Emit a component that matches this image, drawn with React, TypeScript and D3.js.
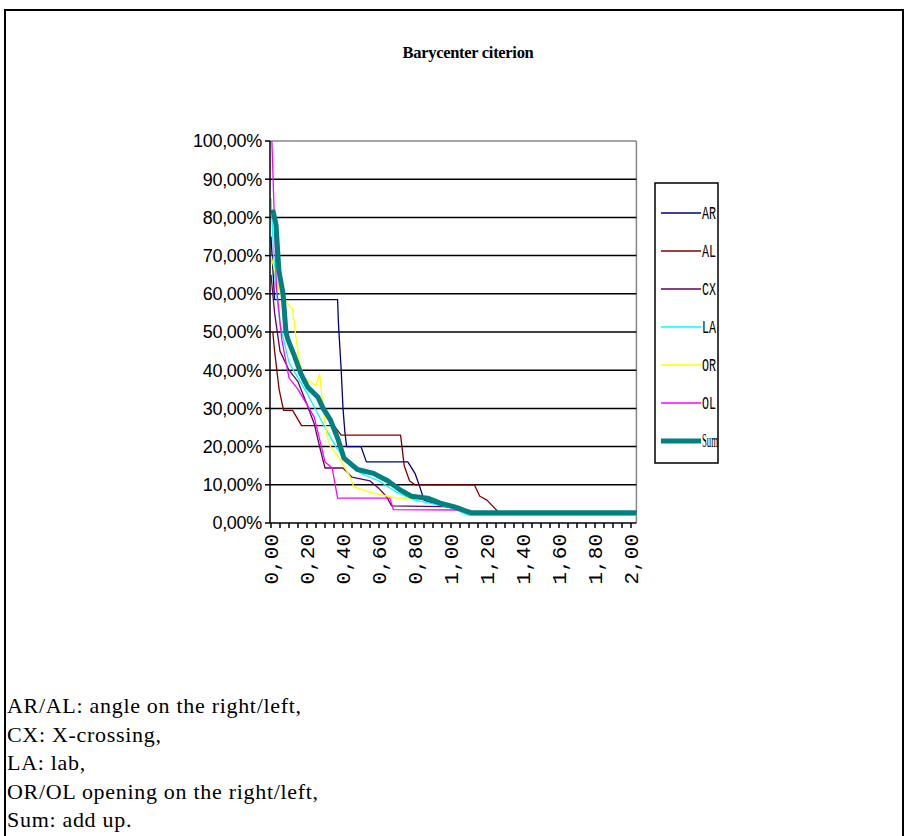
import React from 'react';
import * as d3 from 'd3';

const TITLE = 'Barycenter citerion';
const Y_TICKS = [0, 0.1, 0.2, 0.3, 0.4, 0.5, 0.6, 0.7, 0.8, 0.9, 1.0];
const X_LABELS = [0, 0.2, 0.4, 0.6, 0.8, 1.0, 1.2, 1.4, 1.6, 1.8, 2.0];
const X_MAX = 2.03;

// [threshold, share] pairs
const AR: [number, number][] = [
  [0, 0.75], [0.02, 0.585], [0.37, 0.585], [0.375, 0.52], [0.39, 0.4], [0.4, 0.3], [0.41, 0.24],
  [0.42, 0.2], [0.5, 0.2], [0.53, 0.16], [0.76, 0.16], [0.8, 0.13], [0.83, 0.09], [0.85, 0.06],
  [0.95, 0.045], [1.05, 0.035], [1.12, 0.025], [2.03, 0.025],
];
const AL: [number, number][] = [
  [0.01, 0.5], [0.02, 0.45], [0.045, 0.35], [0.07, 0.295], [0.12, 0.295], [0.17, 0.255],
  [0.35, 0.255], [0.39, 0.23], [0.72, 0.23], [0.74, 0.15], [0.77, 0.11], [0.8, 0.1],
  [1.13, 0.1], [1.16, 0.07], [1.2, 0.06], [1.26, 0.03], [2.03, 0.03],
];
const CX: [number, number][] = [
  [0, 0.65], [0.02, 0.55], [0.05, 0.45], [0.1, 0.4], [0.15, 0.37], [0.2, 0.31], [0.24, 0.26],
  [0.27, 0.2], [0.3, 0.144], [0.4, 0.144], [0.45, 0.12], [0.55, 0.11], [0.6, 0.09], [0.64, 0.07],
  [0.67, 0.045], [1.05, 0.042], [1.1, 0.03], [1.2, 0.025], [2.03, 0.025],
];
const LA: [number, number][] = [
  [0, 0.85], [0.02, 0.65], [0.05, 0.52], [0.1, 0.42], [0.2, 0.34], [0.3, 0.25], [0.36, 0.2],
  [0.42, 0.16], [0.5, 0.13], [0.6, 0.11], [0.7, 0.08], [0.8, 0.06], [0.9, 0.05], [1.0, 0.04],
  [1.1, 0.02], [2.03, 0.02],
];
const OR: [number, number][] = [
  [0, 0.7], [0.05, 0.6], [0.12, 0.56], [0.14, 0.48], [0.16, 0.42], [0.18, 0.38], [0.25, 0.36],
  [0.27, 0.39], [0.29, 0.3], [0.31, 0.23], [0.33, 0.2], [0.38, 0.17], [0.44, 0.12], [0.46, 0.095],
  [0.55, 0.08], [0.65, 0.07], [0.7, 0.065], [0.9, 0.065], [0.95, 0.05], [1.05, 0.035],
  [1.15, 0.025], [2.03, 0.025],
];
const OL: [number, number][] = [
  [0.005, 1.0], [0.015, 0.85], [0.03, 0.62], [0.06, 0.48], [0.1, 0.38], [0.15, 0.35], [0.2, 0.31],
  [0.24, 0.277], [0.28, 0.2], [0.3, 0.16], [0.34, 0.144], [0.37, 0.065], [0.66, 0.065],
  [0.68, 0.035], [1.05, 0.034], [1.1, 0.028], [2.03, 0.028],
];
const SUM: [number, number][] = [
  [0.01, 0.82], [0.028, 0.78], [0.044, 0.66], [0.067, 0.6], [0.083, 0.5], [0.094, 0.48],
  [0.128, 0.44], [0.167, 0.39], [0.205, 0.355], [0.26, 0.33], [0.29, 0.3], [0.33, 0.27],
  [0.372, 0.22], [0.405, 0.17], [0.43, 0.16], [0.48, 0.14], [0.57, 0.13], [0.65, 0.11],
  [0.72, 0.086], [0.78, 0.07], [0.87, 0.065], [0.94, 0.052], [1.02, 0.042], [1.08, 0.032],
  [1.11, 0.027], [2.03, 0.027],
];

const SERIES_NAMES = ['AR', 'AL', 'CX', 'LA', 'OR', 'OL', 'Sum'];
const SERIES_DATA = [AR, AL, CX, LA, OR, OL, SUM];
const SERIES_COLORS = ['#000080', '#800000', '#600060', '#00FFFF', '#FFFF00', '#FF00FF', '#008080'];
const SERIES_WIDTHS = [1.3, 1.3, 1.3, 1.3, 1.3, 1.3, 5];

const CAPTION = [
  'AR/AL: angle on the right/left,',
  'CX: X-crossing,',
  'LA: lab,',
  'OR/OL opening on the right/left,',
  'Sum: add up.',
];

export default function App() {
  const x = d3.scaleLinear().domain([0, 2]).range([271, 631]);
  const y = d3.scaleLinear().domain([0, 1]).range([523, 141]);
  const line = d3.line<[number, number]>().x((d) => x(d[0])).y((d) => y(d[1]));
  const fmtY = (v: number) => (v * 100).toFixed(2).replace('.', ',') + '%';
  const fmtX = (v: number) => v.toFixed(2).replace('.', ',');
  const minorTicks = d3.range(0, 2.0001, 0.05);
  const x0 = x(0) - 1;
  const x1 = x(X_MAX);

  return (
    <svg width={908} height={836} style={{ position: 'absolute', left: 0, top: 0, background: '#fff' }}>
      {/* outer frame */}
      <rect x={5} y={10} width={898} height={840} fill="none" stroke="#000" strokeWidth={2} />
      <text x={468} y={58} textAnchor="middle" fontFamily="Liberation Serif" fontWeight="bold" fontSize={16.5}
        letterSpacing={-0.3}>
        {TITLE}
      </text>
      {/* plot frame */}
      <line x1={x0} x2={x1} y1={y(1)} y2={y(1)} stroke="#888" strokeWidth={1.5} />
      <line x1={x1} x2={x1} y1={y(1)} y2={y(0)} stroke="#888" strokeWidth={1.5} />
      {Y_TICKS.filter((t) => t > 0 && t < 1).map((t) => (
        <line key={t} x1={x0} x2={x1} y1={y(t)} y2={y(t)} stroke="#000" strokeWidth={1.5} />
      ))}
      {/* series */}
      {SERIES_DATA.map((d, i) => (
        <path key={SERIES_NAMES[i]} d={line(d) || ''} fill="none" stroke={SERIES_COLORS[i]}
          strokeWidth={SERIES_WIDTHS[i]} strokeLinejoin="round" />
      ))}
      {/* axes */}
      <line x1={x0} x2={x0} y1={y(1)} y2={y(0)} stroke="#000" strokeWidth={1.5} />
      <line x1={x0} x2={x1} y1={y(0)} y2={y(0)} stroke="#000" strokeWidth={1.5} />
      {Y_TICKS.map((t) => (
        <g key={t}>
          <line x1={x0 - 5} x2={x0} y1={y(t)} y2={y(t)} stroke="#000" strokeWidth={1.5} />
          <text x={262} y={y(t)} dy="0.36em" textAnchor="end" fontFamily="Liberation Sans" fontSize={18}
            letterSpacing={-0.3}>
            {fmtY(t)}
          </text>
        </g>
      ))}
      {minorTicks.map((t) => (
        <line key={t} x1={x(t)} x2={x(t)} y1={y(0)} y2={y(0) + 5} stroke="#000" strokeWidth={1.5} />
      ))}
      {X_LABELS.map((t) => (
        <text key={t} transform={`translate(${x(t)},${y(0) + 11}) rotate(-90)`} dy="0.33em"
          textAnchor="end" fontFamily="Liberation Mono" fontSize={21}>
          {fmtX(t)}
        </text>
      ))}
      {/* legend */}
      <rect x={655} y={183} width={63} height={280} fill="#fff" stroke="#000" strokeWidth={1.5} />
      {SERIES_NAMES.map((n, i) => {
        const ly = 213 + i * 38;
        return (
          <g key={n}>
            <line x1={661} x2={701} y1={ly} y2={ly} stroke={SERIES_COLORS[i]} strokeWidth={i === 6 ? 5 : 1.5} />
            <text x={702} y={ly} dy="0.36em" fontFamily={i === 6 ? 'Liberation Serif' : 'Liberation Mono'}
              fontSize={18} textLength={n.length === 3 ? 16 : 14} lengthAdjust="spacingAndGlyphs">
              {n}
            </text>
          </g>
        );
      })}
      {/* caption */}
      {CAPTION.map((c, i) => (
        <text key={i} x={7} y={713 + i * 28.5} fontFamily="Liberation Serif" fontSize={22} letterSpacing={0.7}>
          {c}
        </text>
      ))}
    </svg>
  );
}
